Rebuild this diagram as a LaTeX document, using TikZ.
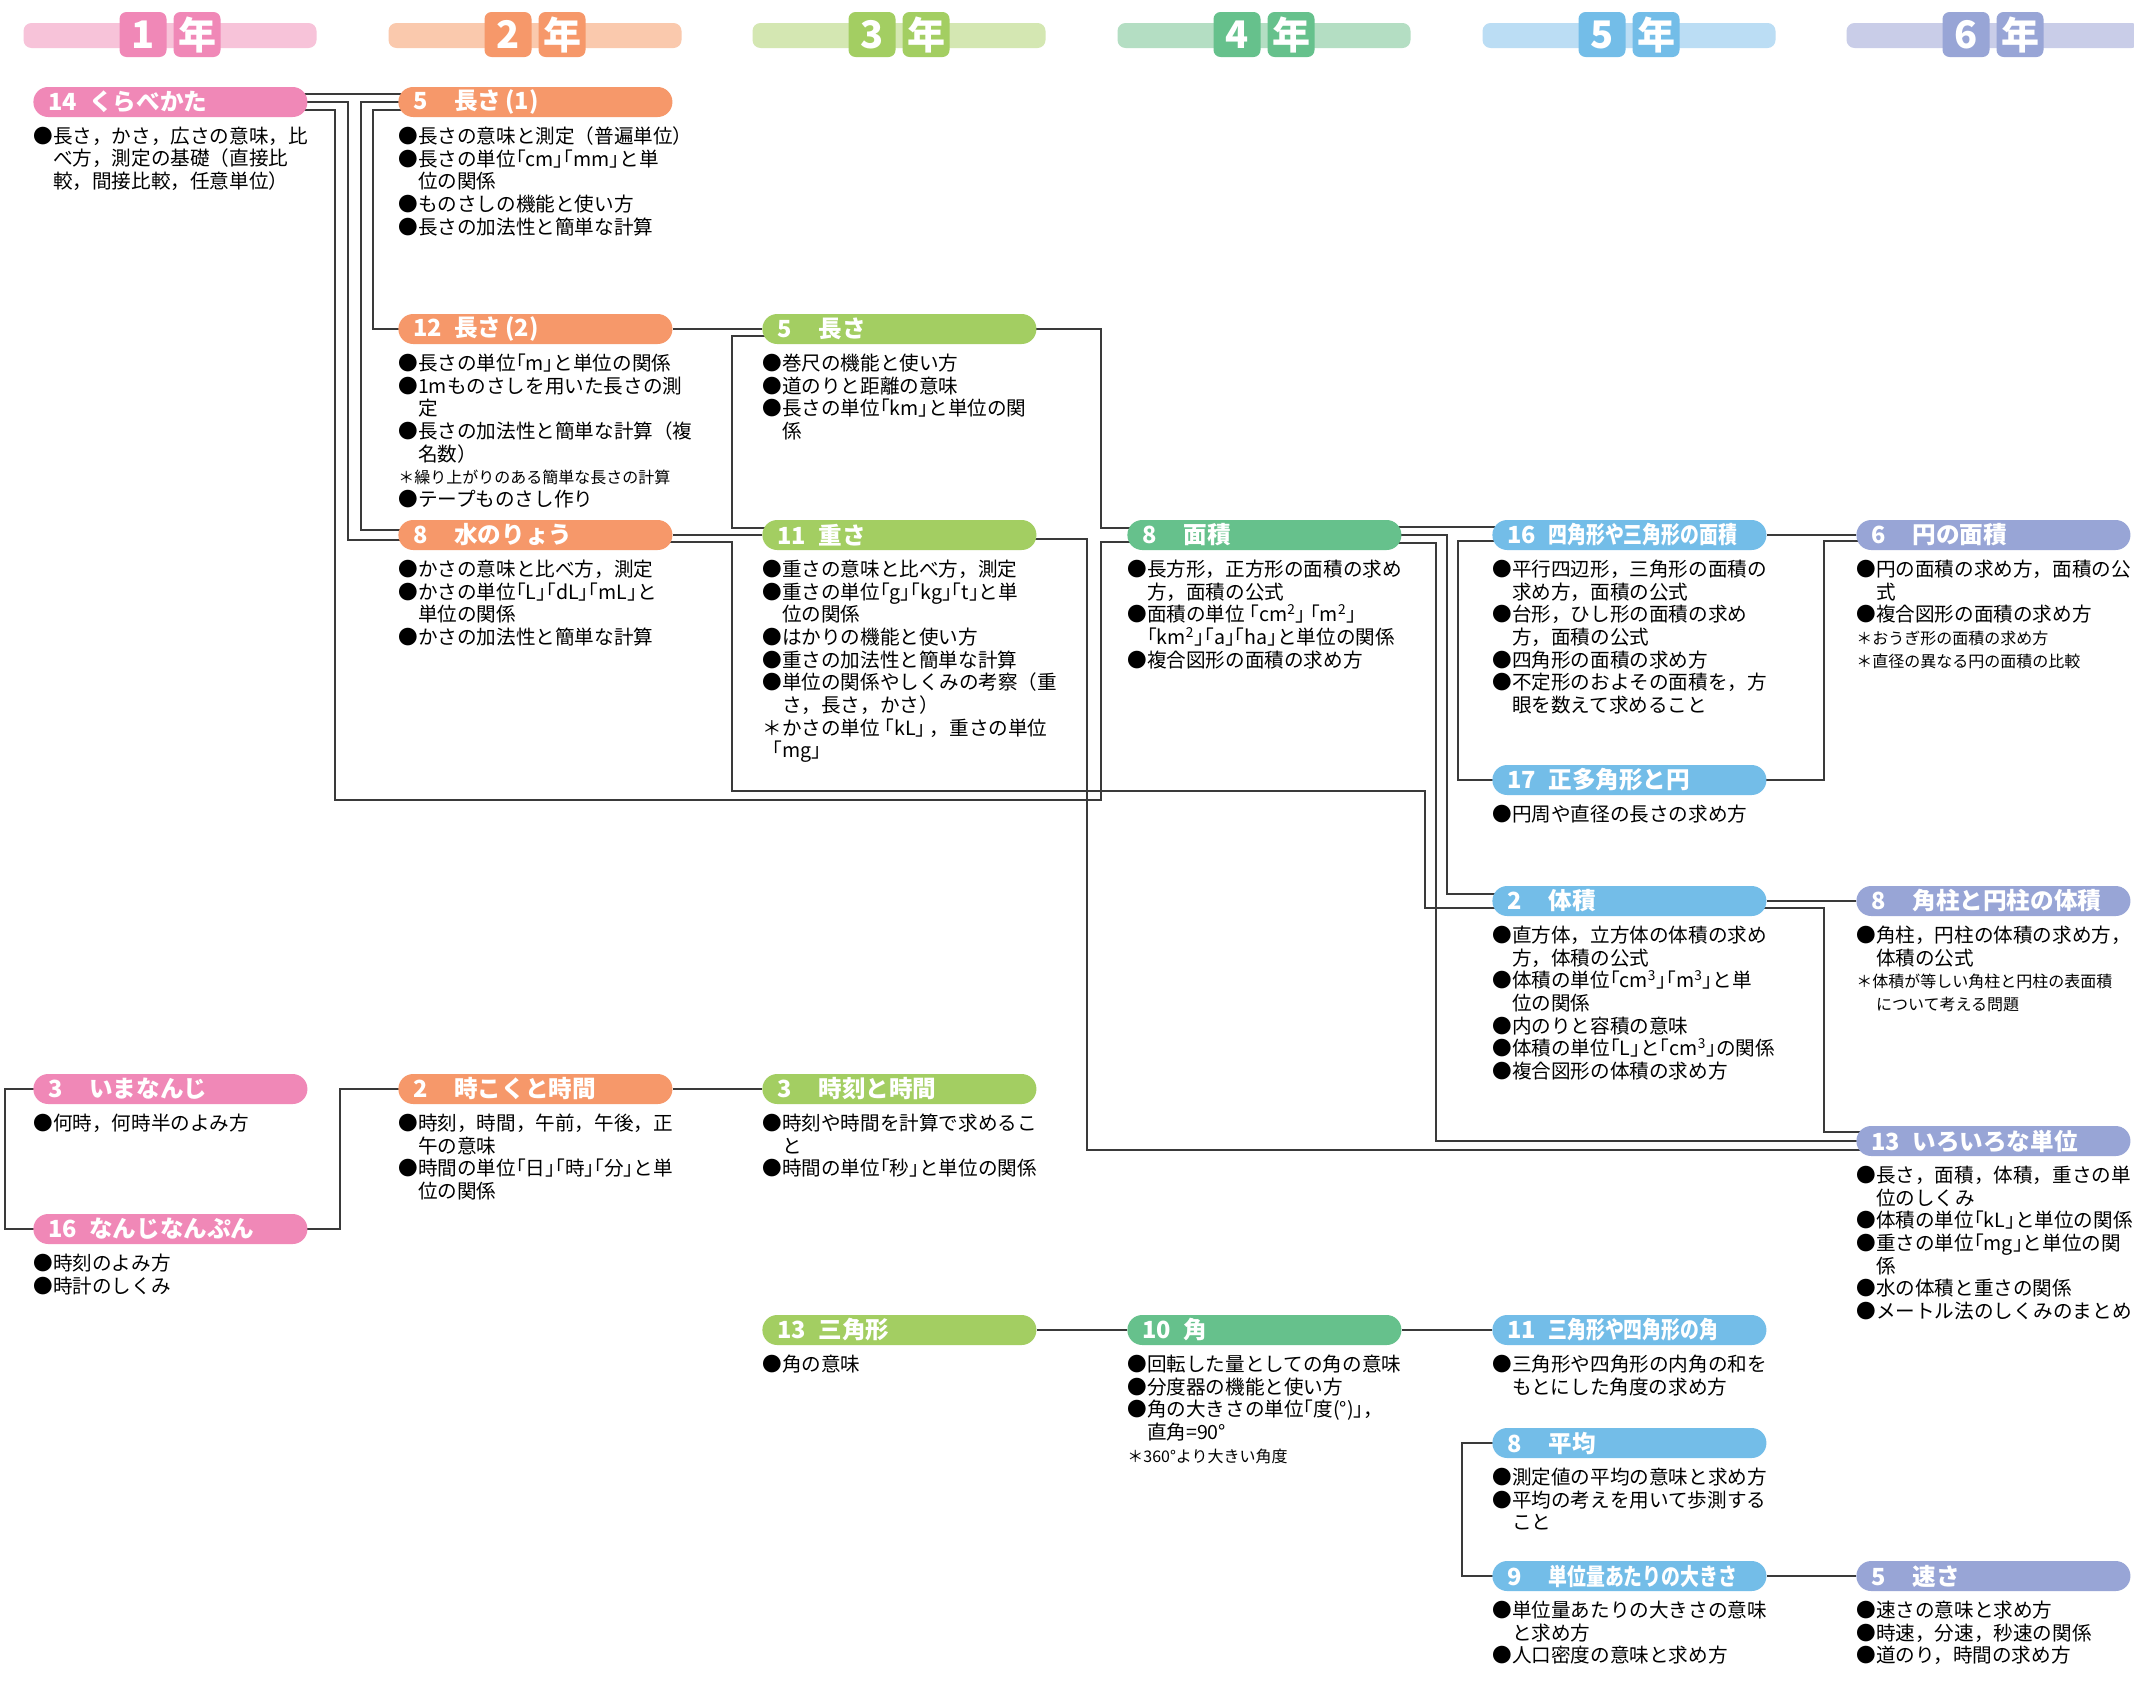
\documentclass[tikz,border=0pt]{standalone}
\usepackage{fontspec}
\setmainfont{Noto Sans CJK JP}
\usepackage{graphicx}
\usepackage{tikz}
\usetikzlibrary{shapes}
\pgfdeclarelayer{background}
\pgfsetlayers{background,main}

\definecolor{pinkA}{HTML}{F088B7}
\definecolor{pinkL}{HTML}{F7C3D9}
\definecolor{orangeA}{HTML}{F6986A}
\definecolor{orangeL}{HTML}{FAC9AD}
\definecolor{limeA}{HTML}{A3CE62}
\definecolor{limeL}{HTML}{D4E7B2}
\definecolor{greenA}{HTML}{66C18C}
\definecolor{greenL}{HTML}{B4DEC3}
\definecolor{blueA}{HTML}{73BDE8}
\definecolor{blueL}{HTML}{BBDDF4}
\definecolor{violetA}{HTML}{98A5D6}
\definecolor{violetL}{HTML}{C9CDE8}
\definecolor{linegray}{HTML}{3A3A3A}

\newcommand{\bul}{●}
\newcommand{\ind}{\hspace*{1em}}
\newcommand{\nte}[1]{{\fontsize{8}{11.35}\selectfont ＊#1}}
\newcommand{\sq}[1]{\scalebox{0.8}[1]{#1}}

\tikzstyle{unit}=[rectangle, rounded corners=7.4pt
,text width=122pt, inner xsep=7.5pt, inner ysep=0pt
,minimum height=15pt, align=left, anchor=west
,text=white, font=\bfseries\fontsize{11.8}{12}\selectfont
]
\tikzstyle{desc}=[anchor=north west, inner sep=0pt, align=left
,font=\fontsize{9.8}{11.35}\selectfont
]
\tikzstyle{bar}=[rectangle, rounded corners=4pt, minimum width=146.5pt, minimum height=12.5pt, inner sep=0pt]
\tikzstyle{badge}=[rectangle, rounded corners=3.5pt, minimum width=23.5pt, minimum height=22.5pt
,inner sep=0pt, text=white, font=\bfseries\fontsize{19}{19}\selectfont]
\tikzstyle{link}=[draw, line width=0.9pt, linegray, -]

\begin{document}
\begin{tikzpicture}[x=0.5pt,y=-0.5pt]
    \useasboundingbox (0,0) rectangle (2134,1681);

    % Year headers
    \foreach \n/\cx/\light/\dark in {1/170/pinkL/pinkA, 2/535/orangeL/orangeA, 3/899/limeL/limeA,
                                      4/1264/greenL/greenA, 5/1629/blueL/blueA, 6/1993/violetL/violetA}
    {
        \node[bar, fill=\light] (bar\n) at (\cx,35.5) {};
        \node[badge, fill=\dark] (num\n) at (\cx-27,34.5) {\n};
        \node[badge, fill=\dark] (nen\n) at (\cx+27,34.5) {年};
    }

    % Units, one pill each
    \foreach \pos/\name/\col/\num/\title in {
        {(33,102)/kurabe/pinkA/14/くらべかた},
        {(33,1089)/imanan/pinkA/3/いまなんじ},
        {(33,1229)/nanpun/pinkA/16/なんじなんぷん},
        {(398,102)/nagasa1/orangeA/5/長さ\,(1)},
        {(398,329)/nagasa2/orangeA/12/長さ\,(2)},
        {(398,535)/mizu/orangeA/8/水のりょう},
        {(398,1089)/jikoku2/orangeA/2/時こくと時間},
        {(762,329)/nagasa3/limeA/5/長さ},
        {(762,535)/omosa/limeA/11/重さ},
        {(762,1089)/jikoku3/limeA/3/時刻と時間},
        {(762,1330)/sankaku/limeA/13/三角形},
        {(1127,535)/menseki/greenA/8/面積},
        {(1127,1330)/kaku/greenA/10/角},
        {(1492,535)/shikaku/blueA/16/\sq{四角形や三角形の面積}},
        {(1492,780)/seita/blueA/17/正多角形と円},
        {(1492,901)/taiseki/blueA/2/体積},
        {(1492,1330)/kakudo/blueA/11/\sq{三角形や四角形の角}},
        {(1492,1443)/heikin/blueA/8/平均},
        {(1492,1576)/tanni/blueA/9/\sq{単位量あたりの大きさ}},
        {(1856,535)/en/violetA/6/円の面積},
        {(1856,901)/kakuchu/violetA/8/角柱と円柱の体積},
        {(1856,1141)/iroiro/violetA/13/いろいろな単位},
        {(1856,1576)/hayasa/violetA/5/速さ}}
        \node[unit, fill=\col] (\name) at \pos {\makebox[20.5pt][l]{\num}\title};

    % Contents under each unit
    \node[desc] (kurabe-t) at ([yshift=-4.5pt]kurabe.south west)
        {\bul 長さ，かさ，広さの意味，比\\ \ind べ方，測定の基礎（直接比\\ \ind 較，間接比較，任意単位）};
    \node[desc] (imanan-t) at ([yshift=-4.5pt]imanan.south west)
        {\bul 何時，何時半のよみ方};
    \node[desc] (nanpun-t) at ([yshift=-4.5pt]nanpun.south west)
        {\bul 時刻のよみ方\\ \bul 時計のしくみ};
    \node[desc] (nagasa1-t) at ([yshift=-4.5pt]nagasa1.south west)
        {\bul 長さの意味と測定（普遍単位）\\ \bul 長さの単位｢cm｣｢mm｣と単\\ \ind 位の関係\\
         \bul ものさしの機能と使い方\\ \bul 長さの加法性と簡単な計算};
    \node[desc] (nagasa2-t) at ([yshift=-4.5pt]nagasa2.south west)
        {\bul 長さの単位｢m｣と単位の関係\\ \bul 1mものさしを用いた長さの測\\ \ind 定\\
         \bul 長さの加法性と簡単な計算（複\\ \ind 名数）\\ \nte{繰り上がりのある簡単な長さの計算}\\
         \bul テープものさし作り};
    \node[desc] (mizu-t) at ([yshift=-4.5pt]mizu.south west)
        {\bul かさの意味と比べ方，測定\\ \bul かさの単位｢L｣｢dL｣｢mL｣と\\ \ind 単位の関係\\
         \bul かさの加法性と簡単な計算};
    \node[desc] (jikoku2-t) at ([yshift=-4.5pt]jikoku2.south west)
        {\bul 時刻，時間，午前，午後，正\\ \ind 午の意味\\ \bul 時間の単位｢日｣｢時｣｢分｣と単\\ \ind 位の関係};
    \node[desc] (nagasa3-t) at ([yshift=-4.5pt]nagasa3.south west)
        {\bul 巻尺の機能と使い方\\ \bul 道のりと距離の意味\\ \bul 長さの単位｢km｣と単位の関\\ \ind 係};
    \node[desc] (omosa-t) at ([yshift=-4.5pt]omosa.south west)
        {\bul 重さの意味と比べ方，測定\\ \bul 重さの単位｢g｣｢kg｣｢t｣と単\\ \ind 位の関係\\
         \bul はかりの機能と使い方\\ \bul 重さの加法性と簡単な計算\\ \bul 単位の関係やしくみの考察（重\\
         \ind さ，長さ，かさ）\\ ＊かさの単位 ｢kL｣ ，重さの単位\\
         \hspace*{0.5em}｢mg｣};
    \node[desc] (jikoku3-t) at ([yshift=-4.5pt]jikoku3.south west)
        {\bul 時刻や時間を計算で求めるこ\\ \ind と\\ \bul 時間の単位｢秒｣と単位の関係};
    \node[desc] (sankaku-t) at ([yshift=-4.5pt]sankaku.south west)
        {\bul 角の意味};
    \node[desc] (menseki-t) at ([yshift=-4.5pt]menseki.south west)
        {\bul 長方形，正方形の面積の求め\\ \ind 方，面積の公式\\
         \bul 面積の単位 ｢cm\textsuperscript{2}｣ ｢m\textsuperscript{2}｣\\
         \ind ｢km\textsuperscript{2}｣｢a｣｢ha｣と単位の関係\\ \bul 複合図形の面積の求め方};
    \node[desc] (kaku-t) at ([yshift=-4.5pt]kaku.south west)
        {\bul 回転した量としての角の意味\\ \bul 分度器の機能と使い方\\ \bul 角の大きさの単位｢度(°)｣，\\
         \ind 直角=90°\\ \nte{360°より大きい角度}};
    \node[desc] (shikaku-t) at ([yshift=-4.5pt]shikaku.south west)
        {\bul 平行四辺形，三角形の面積の\\ \ind 求め方，面積の公式\\ \bul 台形，ひし形の面積の求め\\
         \ind 方，面積の公式\\ \bul 四角形の面積の求め方\\ \bul 不定形のおよその面積を，方\\
         \ind 眼を数えて求めること};
    \node[desc] (seita-t) at ([yshift=-4.5pt]seita.south west)
        {\bul 円周や直径の長さの求め方};
    \node[desc] (taiseki-t) at ([yshift=-4.5pt]taiseki.south west)
        {\bul 直方体，立方体の体積の求め\\ \ind 方，体積の公式\\
         \bul 体積の単位｢cm\textsuperscript{3}｣｢m\textsuperscript{3}｣と単\\ \ind 位の関係\\
         \bul 内のりと容積の意味\\ \bul 体積の単位｢L｣と｢cm\textsuperscript{3}｣の関係\\
         \bul 複合図形の体積の求め方};
    \node[desc] (kakudo-t) at ([yshift=-4.5pt]kakudo.south west)
        {\bul 三角形や四角形の内角の和を\\ \ind もとにした角度の求め方};
    \node[desc] (heikin-t) at ([yshift=-4.5pt]heikin.south west)
        {\bul 測定値の平均の意味と求め方\\ \bul 平均の考えを用いて歩測する\\ \ind こと};
    \node[desc] (tanni-t) at ([yshift=-4.5pt]tanni.south west)
        {\bul 単位量あたりの大きさの意味\\ \ind と求め方\\ \bul 人口密度の意味と求め方};
    \node[desc] (en-t) at ([yshift=-4.5pt]en.south west)
        {\bul 円の面積の求め方，面積の公\\ \ind 式\\ \bul 複合図形の面積の求め方\\
         \nte{おうぎ形の面積の求め方}\\ \nte{直径の異なる円の面積の比較}};
    \node[desc] (kakuchu-t) at ([yshift=-4.5pt]kakuchu.south west)
        {\bul 角柱，円柱の体積の求め方，\\ \ind 体積の公式\\ \nte{体積が等しい角柱と円柱の表面積}\\
         \hspace*{1em}{\fontsize{8}{11.35}\selectfont について考える問題}};
    \node[desc] (iroiro-t) at ([yshift=-4.5pt]iroiro.south west)
        {\bul 長さ，面積，体積，重さの単\\ \ind 位のしくみ\\ \bul 体積の単位｢kL｣と単位の関係\\
         \bul 重さの単位｢mg｣と単位の関\\ \ind 係\\ \bul 水の体積と重さの関係\\ \bul メートル法のしくみのまとめ};
    \node[desc] (hayasa-t) at ([yshift=-4.5pt]hayasa.south west)
        {\bul 速さの意味と求め方\\ \bul 時速，分速，秒速の関係\\ \bul 道のり，時間の求め方};

    % Bends of the connectors
    \coordinate (k1) at (348,300);
    \coordinate (k2) at (335,800);
    \coordinate (k3) at (1101,700);
    \coordinate (n1) at (361,300);
    \coordinate (n2) at (373,200);
    \coordinate (n3) at (732,430);
    \coordinate (n4) at (1101,430);
    \coordinate (m1) at (732,791);
    \coordinate (m2) at (1425,850);
    \coordinate (o1) at (1087,900);
    \coordinate (s1) at (1447,700);
    \coordinate (s2) at (1436,900);
    \coordinate (s3) at (1458,650);
    \coordinate (e1) at (1824,650);
    \coordinate (t1) at (1824,1000);
    \coordinate (i1) at (5,1150);
    \coordinate (j1) at (340,1150);
    \coordinate (h1) at (1462,1500);

    \begin{pgfonlayer}{background}
        \fill[white] (0,0) rectangle (2134,1681);
        % Connect units on one row
        \foreach \source/\dest in {nagasa2/nagasa3, mizu/omosa, shikaku/en, taiseki/kakuchu,
                                   jikoku2/jikoku3, sankaku/kaku, kaku/kakudo, tanni/hayasa}
            \path[link] (\source) -- (\dest);
        \path[link] ([shift={(-3pt,4pt)}]kurabe.east) -- ([shift={(3pt,4pt)}]nagasa1.west);
        \path[link] ([shift={(-3pt,4pt)}]menseki.east) -- ([shift={(3pt,4pt)}]shikaku.west);

        % Connect units across rows
        \path[link] ([xshift=-3pt]kurabe.east) -| (k1) |- ([shift={(3pt,-2.5pt)}]mizu.west);
        \path[link] ([shift={(-3pt,-4pt)}]kurabe.east) -| (k2) -| (k3) |- ([shift={(3pt,-3.5pt)}]menseki.west);
        \path[link] ([xshift=3pt]nagasa1.west) -| (n1) |- ([shift={(3pt,2.5pt)}]mizu.west);
        \path[link] ([shift={(3pt,-4pt)}]nagasa1.west) -| (n2) |- ([xshift=3pt]nagasa2.west);
        \path[link] ([shift={(3pt,-3.5pt)}]nagasa3.west) -| (n3) |- ([shift={(3pt,3.5pt)}]omosa.west);
        \path[link] ([xshift=-3pt]nagasa3.east) -| (n4) |- ([shift={(3pt,3.5pt)}]menseki.west);
        \path[link] ([shift={(-3pt,-3.5pt)}]mizu.east) -| (m1) -| (m2) |- ([shift={(3pt,-3.5pt)}]taiseki.west);
        \path[link] ([shift={(-3pt,-2pt)}]omosa.east) -| (o1) |- ([shift={(3pt,-4.5pt)}]iroiro.west);
        \path[link] ([xshift=-3pt]menseki.east) -| (s1) |- ([shift={(3pt,3.5pt)}]taiseki.west);
        \path[link] ([shift={(-3pt,-4pt)}]menseki.east) -| (s2) |- ([xshift=3pt]iroiro.west);
        \path[link] ([shift={(3pt,-3pt)}]shikaku.west) -| (s3) |- ([xshift=3pt]seita.west);
        \path[link] ([xshift=-3pt]seita.east) -| (e1) |- ([shift={(3pt,-3pt)}]en.west);
        \path[link] ([shift={(-3pt,-3.5pt)}]taiseki.east) -| (t1) |- ([shift={(3pt,4.5pt)}]iroiro.west);
        \path[link] ([xshift=3pt]imanan.west) -| (i1) |- ([xshift=3pt]nanpun.west);
        \path[link] ([xshift=-3pt]nanpun.east) -| (j1) |- ([xshift=3pt]jikoku2.west);
        \path[link] ([xshift=3pt]heikin.west) -| (h1) |- ([xshift=3pt]tanni.west);
    \end{pgfonlayer}
\end{tikzpicture}
\end{document}
